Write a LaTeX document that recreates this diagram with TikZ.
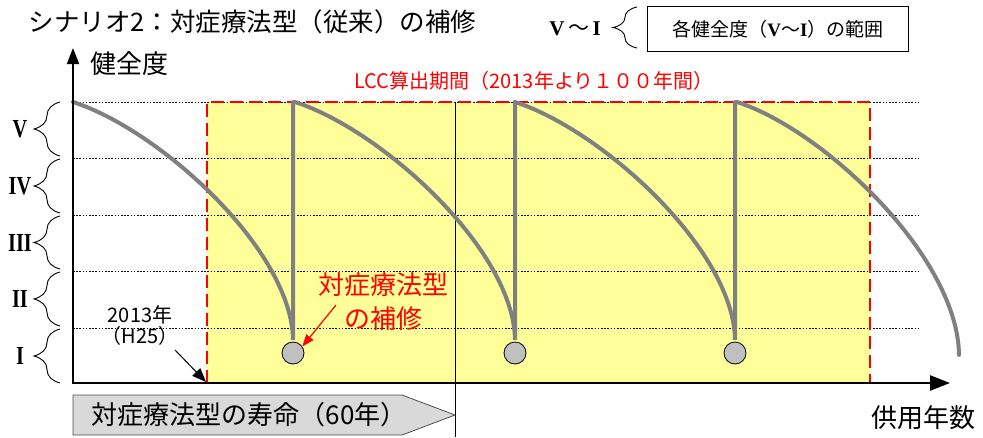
\documentclass[tikz,border=0pt]{standalone}
\usepackage{fontspec}
\setmainfont{Noto Sans CJK JP}
\newfontfamily\romanfont{Liberation Serif}
\usetikzlibrary{positioning,arrows.meta,decorations.pathreplacing}

\definecolor{curvegray}{RGB}{128,128,128}
\definecolor{lccyellow}{RGB}{255,255,153}
\definecolor{repgray}{RGB}{192,192,192}
\definecolor{lifegray}{RGB}{217,217,217}

\newcommand{\fsz}[1]{\fontsize{#1pt}{#1pt}\selectfont}

\tikzset{
  rank/.style={draw, line width=0.9pt, dash pattern=on 1.6pt off 1.6pt},
  lccborder/.style={draw=red, line width=2.4pt, dash pattern=on 13pt off 6pt},
  lifecurve/.style={draw=curvegray, line width=4pt, line cap=round, line join=miter},
  repair/.style={circle, draw=black, fill=repgray, line width=0.8pt, minimum size=22pt, inner sep=0pt},
  rankbrace/.style={decorate, decoration={brace, amplitude=#1}, line width=0.9pt},
  numeral/.style={font=\romanfont\bfseries\fsz{26}},
  axis/.style={draw, line width=#1}
}

\begin{document}
\begin{tikzpicture}[x=1pt, y=-1pt]
  \useasboundingbox (0,0) rectangle (983,437);

  % LCC period
  \fill[lccyellow] (207,102) rectangle (870,383);
  \foreach \y in {102,158,215,271,328}
    \draw[rank] (73,\y) -- (920,\y);
  \draw[lccborder] (207,383) -- (207,102) -- (870,102) -- (870,383);
  \draw[line width=1pt] (455,102) -- (455,437);

  % deterioration curves and repairs
  \foreach \x [count=\i] in {73,295,515} {
    \draw[lifecurve] (\x,102) .. controls +(87,28) and +(-1,-90) .. (\x+220,340) -- (\x+220,102);
    \node[repair] (rep\i) at (\x+220,353) {};
  }
  \draw[lifecurve] (737,102) .. controls +(87,28) and +(-1,-98) .. (959,355);

  % axes
  \draw[axis=2.5pt, -{Triangle[length=20pt,width=15pt]}] (72,383) -- (950,383);
  \draw[axis=2pt, -{Triangle[length=16pt,width=12pt]}] (73,384) -- (73,48);
  \node[font=\fsz{26}] (ylabel) at (129,64) {健全度};
  \node[font=\fsz{26}] (xlabel) at (923,418) {供用年数};

  % health ranks
  \foreach \lab/\top/\bot in {V/102/156, IV/159/213, III/216/269, II/272/326, I/329/383} {
    \draw[rankbrace=26pt] (60,\bot) -- (60,\top);
    \node[numeral] (rank\lab) at (20,{(\top+\bot)/2}) {\scalebox{0.78}[1]{\lab}};
  }

  \node[font=\fsz{25.5}, anchor=west] (title) at (25,22) {シナリオ2：対症療法型（従来）の補修};
  \node[font=\fsz{20}, text=red] (lcc) at (534,81) {LCC算出期間（2013年より１００年間）};

  % legend
  \node[draw, line width=0.8pt, minimum width=261pt, minimum height=45pt, font=\fsz{19}] (legend) at (778,29)
    {各健全度（{\romanfont\bfseries V}～{\romanfont\bfseries I}）の範囲};
  \node[font=\fsz{21}] (legrank) at (575,29) {{\romanfont\bfseries V}\,～\,{\romanfont\bfseries I}};
  \draw[rankbrace=24pt] (637,48) -- (637,7);

  % notes
  \node[font=\fsz{20}, align=center] (start) at (140,326) {2013年\\[1pt]（H25）};
  \coordinate (lccstart) at (206,382);
  \draw[line width=1pt, -{Triangle[length=14pt,width=11pt]}] (175,350) -- (lccstart);
  \node[font=\fsz{26}, text=red, align=center] (repnote) at (383,302) {対症療法型\\[8pt]の補修};
  \draw[red, line width=1.2pt, -{Triangle[length=12pt,width=9pt]}] (336,305) -- (rep1.35);

  % service life
  \draw[draw=black!70, fill=lifegray, line width=0.8pt] (73,395) -- (402,395) -- (455,415) -- (402,435) -- (73,435) -- cycle;
  \node[font=\fsz{26}] (life) at (249,415) {対症療法型の寿命（60年）};
\end{tikzpicture}
\end{document}
